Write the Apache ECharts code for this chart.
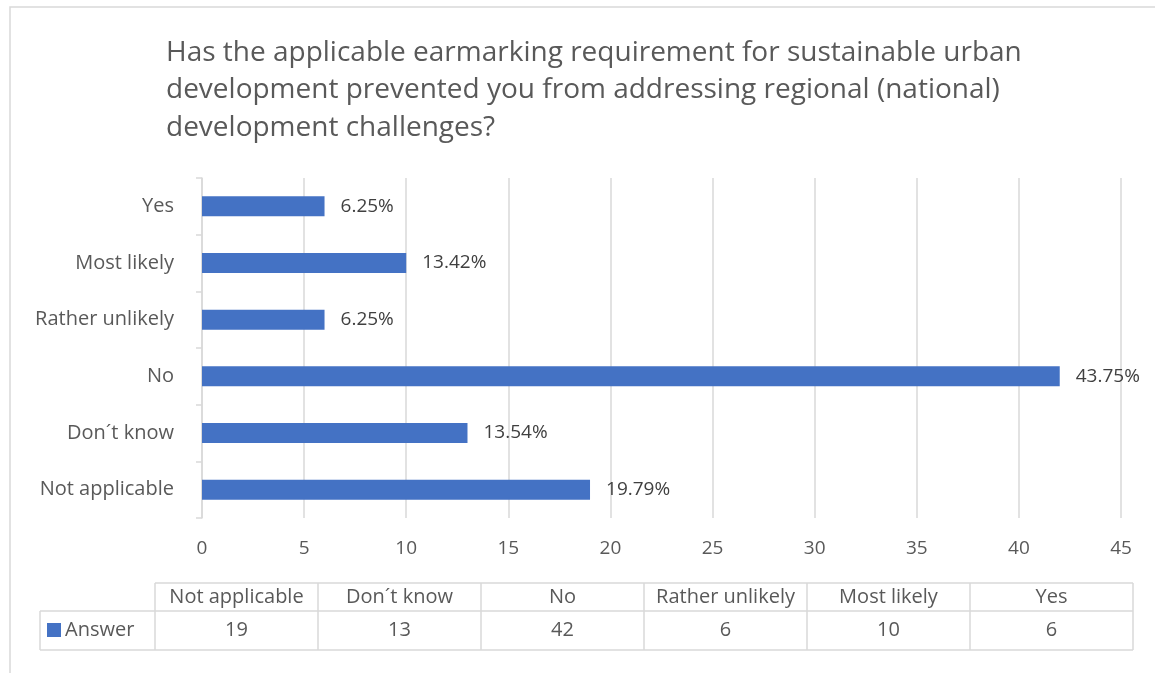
<!DOCTYPE html>
<html>
<head>
<meta charset="utf-8">
<script src="https://cdn.jsdelivr.net/npm/echarts@6/dist/echarts.min.js"></script>
<style>
  html, body { margin: 0; padding: 0; background: #fff; }
  #main { width: 1155px; height: 673px; }
</style>
</head>
<body>
<div id="main"></div>
<script>
  // data, bottom to top as in the table
  var categories = ['Not applicable', 'Don\u00b4t know', 'No', 'Rather unlikely', 'Most likely', 'Yes'];
  var answers = [19, 13, 42, 6, 10, 6];
  var percentLabels = ['19.79%', '13.54%', '43.75%', '6.25%', '13.42%', '6.25%'];
  var seriesName = 'Answer';

  var FONT = '"Open Sans"';
  var GREY = '#595959';
  var LINE = '#d9d9d9';
  var BLUE = '#4472c4';

  var chart = echarts.init(document.getElementById('main'));

  // data table under the axis
  var tblLeft = 40, legendRight = 155, tblRight = 1133;
  var rowTop = 583, rowMid = 611, rowBottom = 650;
  var colW = (tblRight - legendRight) / categories.length;
  var graphic = [
    // chart area frame
    { type: 'rect', shape: { x: 10, y: 7, width: 1160, height: 680 }, style: { fill: null, stroke: LINE, lineWidth: 1.5 }, silent: true },
    { type: 'line', shape: { x1: legendRight, y1: rowTop, x2: tblRight, y2: rowTop }, style: { stroke: LINE, lineWidth: 1.5 } },
    { type: 'line', shape: { x1: tblLeft, y1: rowMid, x2: tblRight, y2: rowMid }, style: { stroke: LINE, lineWidth: 1.5 } },
    { type: 'line', shape: { x1: tblLeft, y1: rowBottom, x2: tblRight, y2: rowBottom }, style: { stroke: LINE, lineWidth: 1.5 } },
    { type: 'line', shape: { x1: tblLeft, y1: rowMid, x2: tblLeft, y2: rowBottom }, style: { stroke: LINE, lineWidth: 1.5 } },
    { type: 'rect', shape: { x: 47, y: 623, width: 14, height: 14 }, style: { fill: BLUE } },
    { type: 'text', x: 65, y: (rowMid + rowBottom) / 2, style: { text: seriesName, fill: GREY, font: '20px ' + FONT, verticalAlign: 'middle' } }
  ];
  for (var i = 0; i <= categories.length; i++) {
    var x = legendRight + i * colW;
    graphic.push({ type: 'line', shape: { x1: x, y1: rowTop, x2: x, y2: rowBottom }, style: { stroke: LINE, lineWidth: 1.5 } });
  }
  categories.forEach(function (c, i) {
    var cx = legendRight + (i + 0.5) * colW;
    graphic.push({ type: 'text', x: cx, y: (rowTop + rowMid) / 2, style: { text: c, fill: GREY, font: '20px ' + FONT, align: 'center', verticalAlign: 'middle' } });
    graphic.push({ type: 'text', x: cx, y: (rowMid + rowBottom) / 2, style: { text: String(answers[i]), fill: GREY, font: '20px ' + FONT, align: 'center', verticalAlign: 'middle' } });
  });

  var option = {
    backgroundColor: '#fff',
    animation: false,
    title: {
      text: 'Has the applicable earmarking requirement for sustainable urban\ndevelopment prevented you from addressing regional (national)\ndevelopment challenges?',
      left: 161,
      top: 29,
      textStyle: { fontFamily: FONT, fontSize: 28, fontWeight: 'normal', color: GREY, lineHeight: 37.5 }
    },
    grid: { left: 202, right: 34, top: 178, height: 340, containLabel: false },
    xAxis: {
      type: 'value',
      min: 0,
      max: 45,
      interval: 5,
      axisLine: { show: false },
      axisTick: { show: false },
      axisLabel: { color: GREY, fontFamily: FONT, fontSize: 19, margin: 21 },
      splitLine: { lineStyle: { color: LINE, width: 1.5 } }
    },
    yAxis: {
      type: 'category',
      data: categories,
      axisLine: { lineStyle: { color: LINE, width: 1.5 } },
      axisTick: { show: true, length: 6, inside: false, lineStyle: { color: LINE, width: 1.5 } },
      axisLabel: { color: GREY, fontFamily: FONT, fontSize: 20, margin: 28 }
    },
    series: [{
      name: seriesName,
      type: 'bar',
      data: answers,
      barWidth: 20,
      itemStyle: { color: BLUE },
      label: {
        show: true,
        position: 'right',
        distance: 16,
        color: '#404040',
        fontFamily: FONT,
        fontSize: 19,
        formatter: function (p) { return percentLabels[p.dataIndex]; }
      }
    }],
    graphic: graphic
  };
  chart.setOption(option);
</script>
</body>
</html>
